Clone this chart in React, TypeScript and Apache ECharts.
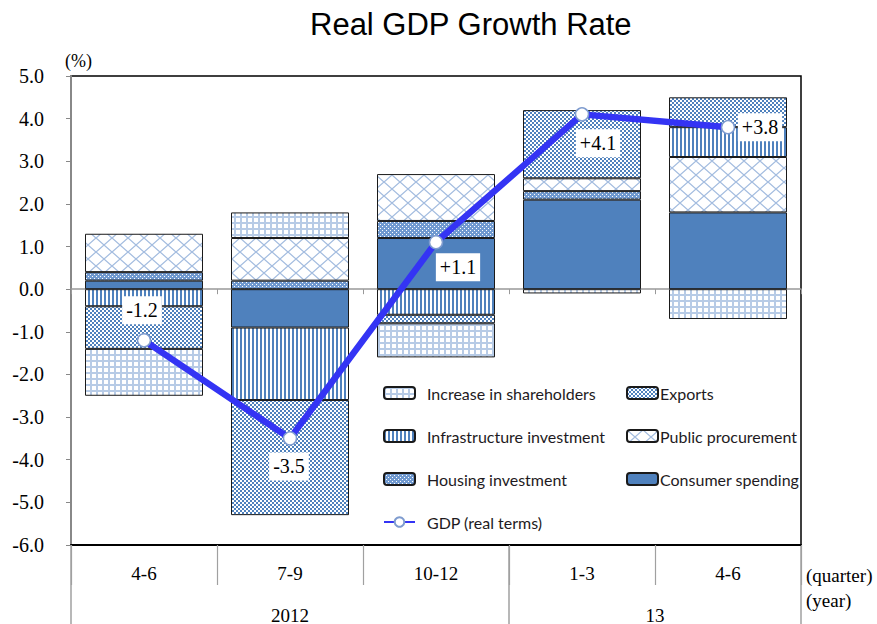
import React, { useEffect, useRef } from 'react';
import * as echarts from 'echarts';

// ---- data ----
const quarters = ['4-6', '7-9', '10-12', '1-3', '4-6'];
const years = ['2012', '13'];
const yearSpans = [3, 2];
const consumerSpending = [0.2, -0.9, 1.2, 2.1, 1.8];
const housingInvestment = [0.2, 0.2, 0.4, 0.2, null];
const publicProcurement = [0.9, 1.0, 1.1, 0.3, 1.3];
const infrastructureInvestment = [-0.4, -1.7, -0.6, null, 0.7];
const exportsData = [-1.0, -2.7, -0.2, 1.6, 0.7];
const inventoryIncrease = [-1.1, 0.6, -0.8, -0.1, -0.7];
const gdp = [-1.2, -3.5, 1.1, 4.1, 3.8];
const gdpLabels = ['-1.2', '-3.5', '+1.1', '+4.1', '+3.8'];
const yMin = -6;
const yMax = 5;

// label offsets (px) relative to points
const gdpLabelOffsets = [[-2, -30], [-1, 28], [22, 25], [16, 29], [32, 0]];

const SERIF = '"Liberation Serif", "Times New Roman", serif';
const BLUE = '#4F81BD';

function tile(w: number, h: number, draw: (ctx: CanvasRenderingContext2D) => void) {
  const c = document.createElement('canvas');
  c.width = w;
  c.height = h;
  const ctx = c.getContext('2d')!;
  draw(ctx);
  return { image: c.toDataURL(), repeat: 'repeat', imageWidth: w, imageHeight: h } as any;
}

function makePatterns() {
  const grid = tile(6, 6, (ctx) => {
    ctx.fillStyle = '#B7CBE6';
    ctx.fillRect(0, 0, 6, 6);
    ctx.fillStyle = '#ffffff';
    ctx.fillRect(2, 2, 4, 4);
  });
  const checker = tile(4, 4, (ctx) => {
    ctx.fillStyle = BLUE;
    ctx.fillRect(0, 0, 4, 4);
    ctx.fillStyle = '#ffffff';
    ctx.fillRect(0, 0, 2, 2);
    ctx.fillRect(2, 2, 2, 2);
  });
  const stripes = tile(4, 4, (ctx) => {
    ctx.fillStyle = '#ffffff';
    ctx.fillRect(0, 0, 4, 4);
    ctx.fillStyle = BLUE;
    ctx.fillRect(0, 0, 2, 4);
  });
  const dots = tile(4, 4, (ctx) => {
    ctx.fillStyle = '#7099CF';
    ctx.fillRect(0, 0, 4, 4);
    ctx.fillStyle = '#ffffff';
    ctx.fillRect(0, 0, 1, 1);
    ctx.fillRect(2, 2, 1, 1);
  });
  const diamonds = tile(16, 14, (ctx) => {
    ctx.fillStyle = '#ffffff';
    ctx.fillRect(0, 0, 16, 14);
    ctx.strokeStyle = '#A3BCDF';
    ctx.lineWidth = 1.3;
    for (const dx of [-16, 0, 16]) {
      ctx.beginPath();
      ctx.moveTo(dx, 0);
      ctx.lineTo(dx + 16, 14);
      ctx.moveTo(dx + 16, 0);
      ctx.lineTo(dx, 14);
      ctx.stroke();
    }
  });
  return { grid, checker, stripes, dots, diamonds };
}

export default function App() {
  const ref = useRef<HTMLDivElement>(null);

  useEffect(() => {
    const chart = echarts.init(ref.current!, null, { renderer: 'svg' });
    const p = makePatterns();
    const border = { borderColor: '#1a1a1a', borderWidth: 1 };
    const barBase = { type: 'bar', stack: 'gdp', barWidth: 118, xAxisIndex: 0 };
    const legendText = { fontFamily: 'Lato, "Open Sans", sans-serif', fontSize: 16, color: '#1e1a22', lineHeight: 16 };

    const option: any = {
      animation: false,
      backgroundColor: '#ffffff',
      title: {
        text: 'Real GDP Growth Rate',
        left: 305,
        top: 4,
        textStyle: { fontFamily: '"Liberation Sans", Arial, sans-serif', fontSize: 31, fontWeight: 'normal', color: '#000' },
      },
      grid: {
        left: 71,
        right: 76,
        top: 76,
        bottom: 79,
        show: true,
        borderColor: '#000',
        borderWidth: 1.5,
        backgroundColor: 'transparent',
      },
      legend: [
        {
          orient: 'vertical',
          left: 378,
          top: 380,
          itemWidth: 31,
          itemHeight: 12,
          itemGap: 27,
          textStyle: { ...legendText, padding: [0, 0, 0, 7] },
          data: ['Increase in shareholders', 'Infrastructure investment', 'Housing investment', 'GDP (real terms)'],
        },
        {
          orient: 'vertical',
          left: 621,
          top: 380,
          itemWidth: 31,
          itemHeight: 12,
          itemGap: 27,
          textStyle: { ...legendText, padding: [0, 0, 0, -3] },
          data: ['Exports', 'Public procurement', 'Consumer spending'],
        },
      ],
      xAxis: [
        {
          type: 'category',
          data: quarters,
          position: 'bottom',
          axisLine: { onZero: false, lineStyle: { color: '#000', width: 2 } },
          axisTick: { show: true, length: 40, lineStyle: { color: '#a0a0a0', width: 1.2 } },
          axisLabel: { fontFamily: SERIF, fontSize: 19, color: '#000', margin: 19 },
        },
        {
          type: 'category',
          data: quarters,
          position: 'bottom',
          axisLine: { onZero: true, lineStyle: { color: '#999', width: 1.5 } },
          axisTick: { show: true, length: 5, lineStyle: { color: '#999' } },
          axisLabel: { show: false },
        },
      ],
      yAxis: {
        type: 'value',
        min: yMin,
        max: yMax,
        interval: 1,
        splitLine: { show: false },
        axisLine: { show: true, lineStyle: { color: '#888', width: 2 } },
        axisTick: { show: true, length: 5, lineStyle: { color: '#888' } },
        axisLabel: {
          fontFamily: SERIF,
          fontSize: 20,
          color: '#000',
          margin: 27,
          formatter: (v: number) => v.toFixed(1),
        },
      },
      series: [
        { ...barBase, name: 'Consumer spending', data: consumerSpending, itemStyle: { color: BLUE, ...border } },
        { ...barBase, name: 'Housing investment', data: housingInvestment, itemStyle: { color: p.dots, ...border } },
        { ...barBase, name: 'Public procurement', data: publicProcurement, itemStyle: { color: p.diamonds, ...border } },
        { ...barBase, name: 'Infrastructure investment', data: infrastructureInvestment, itemStyle: { color: p.stripes, ...border } },
        { ...barBase, name: 'Exports', data: exportsData, itemStyle: { color: p.checker, ...border } },
        { ...barBase, name: 'Increase in shareholders', data: inventoryIncrease, itemStyle: { color: p.grid, ...border } },
        {
          type: 'line',
          name: 'GDP (real terms)',
          xAxisIndex: 0,
          z: 5,
          data: gdp.map((v, i) => ({ value: v, label: { offset: gdpLabelOffsets[i] } })),
          symbol: 'circle',
          symbolSize: 13,
          lineStyle: { color: '#3434F4', width: 6.5 },
          itemStyle: { color: '#ffffff', borderColor: '#7F9CCF', borderWidth: 1.5 },
          label: {
            show: true,
            position: 'inside',
            formatter: (params: any) => gdpLabels[params.dataIndex],
            fontFamily: SERIF,
            fontSize: 20,
            color: '#000',
            backgroundColor: '#ffffff',
            padding: [5, 4, 3, 4],
          },
        },
      ],
    };

    chart.setOption(option);

    // decorations below the x axis, positioned from the axis scale
    const cx = (i: number) => chart.convertToPixel({ xAxisIndex: 0 }, i) as number;
    const step = cx(1) - cx(0);
    const yBottom = chart.convertToPixel({ yAxisIndex: 0 }, yMin) as number;
    const yTop = chart.convertToPixel({ yAxisIndex: 0 }, yMax) as number;
    const H = 624;
    const graphics: any[] = [];
    let start = 0;
    const boundaries: number[] = [cx(0) - step / 2];
    years.forEach((yr, k) => {
      const end = start + yearSpans[k] - 1;
      const mid = (cx(start) + cx(end)) / 2;
      graphics.push({
        type: 'text',
        x: mid,
        y: 615,
        style: { text: yr, fontFamily: SERIF, fontSize: 19, fill: '#000', align: 'center', verticalAlign: 'middle' },
      });
      boundaries.push(cx(end) + step / 2);
      start = end + 1;
    });
    boundaries.forEach((bx) => {
      graphics.push({
        type: 'line',
        shape: { x1: bx, y1: yBottom, x2: bx, y2: H },
        style: { stroke: '#a0a0a0', lineWidth: 1.5 },
      });
    });
    const right = boundaries[boundaries.length - 1];
    graphics.push(
      {
        type: 'text',
        x: right + 5,
        y: 575,
        style: { text: '(quarter)', fontFamily: SERIF, fontSize: 19, fill: '#000', align: 'left', verticalAlign: 'middle' },
      },
      {
        type: 'text',
        x: right + 5,
        y: 600,
        style: { text: '(year)', fontFamily: SERIF, fontSize: 19, fill: '#000', align: 'left', verticalAlign: 'middle' },
      },
      {
        type: 'text',
        x: boundaries[0] - 6,
        y: yTop - 15,
        style: { text: '(%)', fontFamily: SERIF, fontSize: 18, fill: '#000', align: 'left', verticalAlign: 'middle' },
      }
    );
    chart.setOption({ graphic: graphics });

    return () => chart.dispose();
  }, []);

  return <div ref={ref} style={{ position: 'absolute', left: 0, top: 0, width: 877, height: 624 }} />;
}
